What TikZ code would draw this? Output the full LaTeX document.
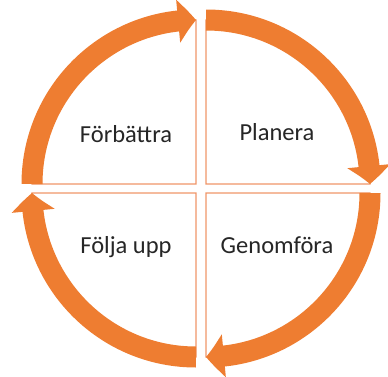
\documentclass[tikz,border=0pt]{standalone}
\usepackage{fontspec}
\setmainfont{Carlito}
\usetikzlibrary{arrows.meta,bending,calc}
\definecolor{cycleorange}{RGB}{238,125,49}
\definecolor{edgeorange}{RGB}{240,150,105}

\begin{document}
\begin{tikzpicture}[x=1pt, y=1pt,
                    quarter/.style = {
                      draw=edgeorange, fill=white,
                      line width=1.3pt
                    },
                    cyclearrow/.style = {
                      draw=cycleorange, line width=21pt,
                      -{Triangle[length=18pt, width=42pt, bend]}
                    },
                    phase/.style = {
                      font=\fontsize{24.5}{29}\selectfont,
                      text=black!85, anchor=base
                    }]
    \useasboundingbox (0,0) rectangle (388,376);

    % corners of the four quarters
    \coordinate (tl) at (196,192);
    \coordinate (tr) at (206,192);
    \coordinate (br) at (206,183);
    \coordinate (bl) at (196,183);

    % quarters
    \draw[quarter] (tl) -- ++(180:164) arc[start angle=180, end angle=90, radius=164] -- cycle;
    \draw[quarter] (tr) -- ++(90:164) arc[start angle=90, end angle=0, radius=164] -- cycle;
    \draw[quarter] (br) -- ++(0:164) arc[start angle=0, end angle=-90, radius=164] -- cycle;
    \draw[quarter] (bl) -- ++(-90:164) arc[start angle=-90, end angle=-180, radius=164] -- cycle;

    % arrows, clockwise
    \draw[cyclearrow] ($(tl)+(180:164)$) arc[start angle=180, end angle=90, radius=164];
    \draw[cyclearrow] ($(tr)+(90:164)$) arc[start angle=90, end angle=0, radius=164];
    \draw[cyclearrow] ($(br)+(0:164)$) arc[start angle=0, end angle=-90, radius=164];
    \draw[cyclearrow] ($(bl)+(-90:164)$) arc[start angle=-90, end angle=-180, radius=164];

    % labels
    \node[phase] (improve) at (126,234) {Förbättra};
    \node[phase] (plan) at (277,236) {Planera};
    \node[phase] (check) at (126,123) {Följa upp};
    \node[phase] (do) at (277,123) {Genomföra};
  \end{tikzpicture}
\end{document}
